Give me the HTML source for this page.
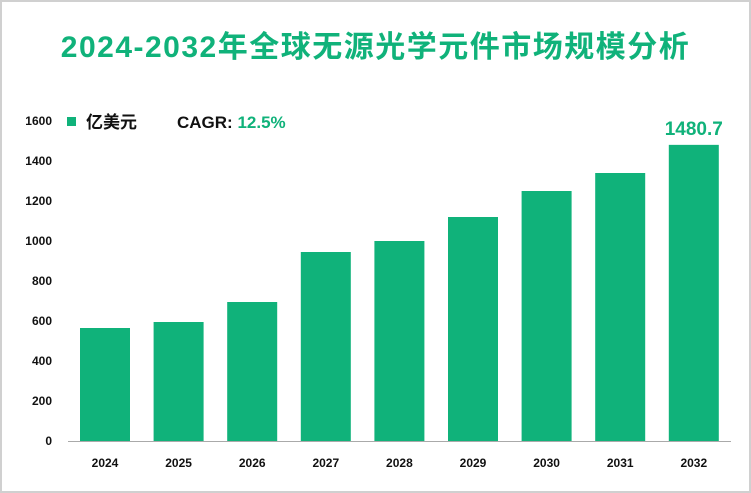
<!DOCTYPE html>
<html><head><meta charset="utf-8"><style>
body{margin:0;background:#fff}
#wrap{position:relative;width:751px;height:493px;box-sizing:border-box;border:2px solid #d0d0d0;overflow:hidden;font-family:"Liberation Sans","Noto Sans CJK SC",sans-serif}
#title{position:absolute;left:-2px;width:751px;top:29px;text-align:center;font-size:30px;font-weight:bold;color:#10b27a;letter-spacing:1.5px;line-height:34px}
svg{position:absolute;left:-2px;top:-2px}
</style></head><body>
<div id="wrap">
<div id="title">2024-2032年全球无源光学元件市场规模分析</div>
<svg id="c" width="751" height="493">
<rect x="67" y="117" width="9" height="9" fill="#10b27a"/>
<text x="86" y="128" font-size="17" font-weight="bold" fill="#111">亿美元</text>
<text x="177" y="128" font-size="17" font-weight="bold" fill="#111">CAGR: <tspan fill="#10b27a">12.5%</tspan></text>
</svg>
</div>
<script>
const categories=["2024","2025","2026","2027","2028","2029","2030","2031","2032"];
const values=[565,595,695,945,1000,1120,1250,1340,1480.7];
const ticks=[0,200,400,600,800,1000,1200,1400,1600];
const svg=document.getElementById('c');const NS="http://www.w3.org/2000/svg";
const y0=441,y1=121,vmax=1600;
const y=v=>y0-(y0-y1)*v/vmax;
const x=i=>105+i*73.6;
function mk(t,a){const e=document.createElementNS(NS,t);for(const k in a)e.setAttribute(k,a[k]);svg.appendChild(e);return e;}
ticks.forEach(t=>{const e=mk('text',{x:52,y:y(t)+4,'text-anchor':'end','font-size':12,'font-weight':'bold',fill:'#111'});e.textContent=t;

});
const ax=mk('line',{x1:68,x2:731,y1:y0+0.5,y2:y0+0.5,stroke:'#aaa'});


categories.forEach((c,i)=>{const b=mk('rect',{x:x(i)-25,y:y(values[i]),width:50,height:y0-y(values[i]),fill:'#10b27a'});


const t=mk('text',{x:x(i),y:467,'text-anchor':'middle','font-size':12,'font-weight':'bold',fill:'#111'});t.textContent=c;

});
const li=values.length-1;
const v=mk('text',{x:x(li),y:y(values[li])-10,'text-anchor':'middle','font-size':19,'font-weight':'bold',fill:'#10b27a'});v.textContent=values[li];


</script>
</body></html>
